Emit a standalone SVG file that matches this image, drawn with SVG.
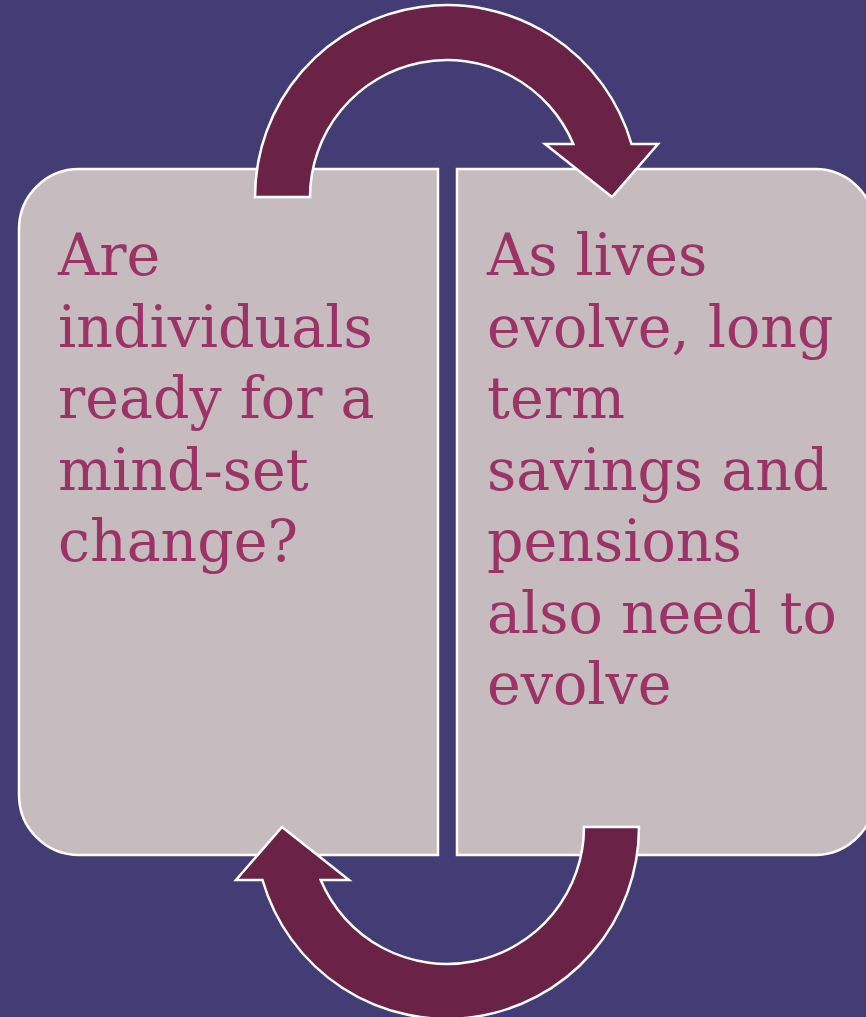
<svg xmlns="http://www.w3.org/2000/svg" xmlns:xlink="http://www.w3.org/1999/xlink" width="866" height="1017" viewBox="0 0 866 1017">
<style>
.box{fill:#C6BCBF;stroke:#FFFFFF;stroke-width:2.5}
.arrow{fill:#6A2347;stroke:#FFFFFF;stroke-width:2.5;stroke-linejoin:miter}
.t{font-family:"DejaVu Serif","Liberation Serif",serif;font-size:57px;fill:#9C3367}
</style>
<defs>
<path id="arc" d="M255,197 A192,192 0 0 1 631.5,144 H658 L612,197 L545,144 H573.3 A137,137 0 0 0 310,197 Z"/>
</defs>
<rect width="866" height="1017" fill="#443D75"/>
<g id="node-left">
<path class="box" d="M438,169 H79 A60,60 0 0 0 19,229 V795 A60,60 0 0 0 79,855 H438 Z"/>
<text class="t" x="58"><tspan x="58" y="275">Are</tspan><tspan x="58" y="346.5">individuals</tspan><tspan x="58" y="418">ready for a</tspan><tspan x="58" y="489.5">mind-set</tspan><tspan x="58" y="561">change?</tspan></text>
</g>
<g id="node-right">
<path class="box" d="M457,169 H815 A60,60 0 0 1 875,229 V795 A60,60 0 0 1 815,855 H457 Z"/>
<text class="t" x="487"><tspan x="487" y="275">As lives</tspan><tspan x="487" y="346.5">evolve, long</tspan><tspan x="487" y="418">term</tspan><tspan x="487" y="489.5">savings and</tspan><tspan x="487" y="561">pensions</tspan><tspan x="487" y="632.5">also need to</tspan><tspan x="487" y="704">evolve</tspan></text>
</g>
<g id="connectors">
<use xlink:href="#arc" class="arrow"/>
<use xlink:href="#arc" class="arrow" transform="rotate(180 447 512)"/>
</g>
</svg>
